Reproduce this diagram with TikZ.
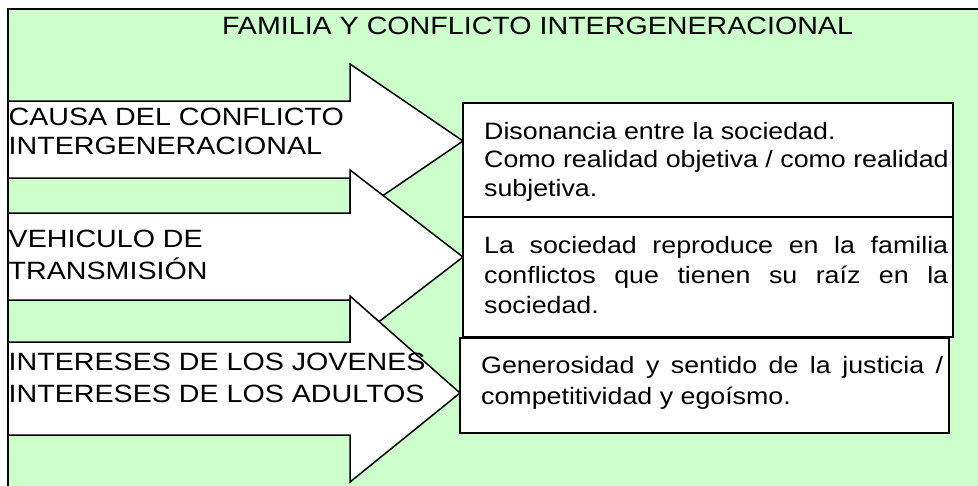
\documentclass[tikz,border=0pt]{standalone}
\usepackage{fontspec}
\setmainfont{Liberation Sans}[FakeStretch=1.13]
\newfontfamily\capsfont{Liberation Sans}[FakeStretch=1.145]
\usetikzlibrary{positioning}
\definecolor{framegreen}{RGB}{204,255,204}
\tikzset{
  green frame/.style={
    fill=framegreen,
    draw=black,
    line width=1.8pt,
  },
  big arrow/.style={
    fill=white,
    draw=black,
    line width=1.5pt,
    line join=miter,
  },
  text box/.style={
    fill=white,
    draw=black,
    line width=2pt,
    outer sep=0pt,
    inner sep=0pt,
    anchor=north west,
  },
  left label/.style={
    anchor=north west,
    inner sep=0pt,
    align=left,
    font={\capsfont\fontsize{25}{#1}\selectfont},
  },
  box text/.style={
    anchor=north west,
    inner sep=0pt,
    align=left,
    font={\fontsize{23.7}{#1}\selectfont},
  }
}

\begin{document}
\begin{tikzpicture}[x=1pt, y=-1pt, node distance=0pt]
  \useasboundingbox (0,0) rectangle (978,485);
  \clip (0,0) rectangle (978,485);
  \draw [green frame] (8,9) rectangle (1000,500);

  \draw [big arrow] (8,101) -- (350,101) -- (350,64) -- (463,141) -- (350,218) -- (350,178) -- (8,178) -- cycle;
  \draw [big arrow] (8,213) -- (350,213) -- (350,170) -- (463,257) -- (350,344) -- (350,300) -- (8,300) -- cycle;
  \draw [big arrow] (8,342) -- (350,342) -- (350,296) -- (460,393) -- (350,482) -- (350,435) -- (8,435) -- cycle;

  \node [text box, minimum width=490pt, minimum height=114pt] (box1) at (463,103) {};
  \node [text box, minimum width=490pt, minimum height=120pt, below=of box1] (box2) {};
  \node [text box, minimum width=489pt, minimum height=95pt] (box3) at (460,338) {};

  \node [font={\capsfont\fontsize{25}{30}\selectfont}, anchor=base] (title) at (537.5,34) {FAMILIA Y CONFLICTO INTERGENERACIONAL};

  \node [left label=28.3] (causa) at (8.5,108.3) {CAUSA DEL CONFLICTO\\INTERGENERACIONAL};
  \node [left label=32.5] (vehiculo) at (8.5,229.5) {VEHICULO DE\\TRANSMISIÓN};
  \node [left label=32] (intereses) at (8.5,353) {INTERESES DE LOS JOVENES\\INTERESES DE LOS ADULTOS};

  \node [box text=28.7] (causa text) at (484,121.7) {Disonancia entre la sociedad.\\Como realidad objetiva / como realidad\\subjetiva.};
  \node [box text=30] (vehiculo text) at (484,236) {\makebox[464pt][s]{La sociedad reproduce en la familia}\\\makebox[464pt][s]{conflictos que tienen su raíz en la}\\sociedad.};
  \node [box text=31] (intereses text) at (481,356) {\makebox[462pt][s]{Generosidad y sentido de la justicia /}\\competitividad y egoísmo.};
\end{tikzpicture}
\end{document}
